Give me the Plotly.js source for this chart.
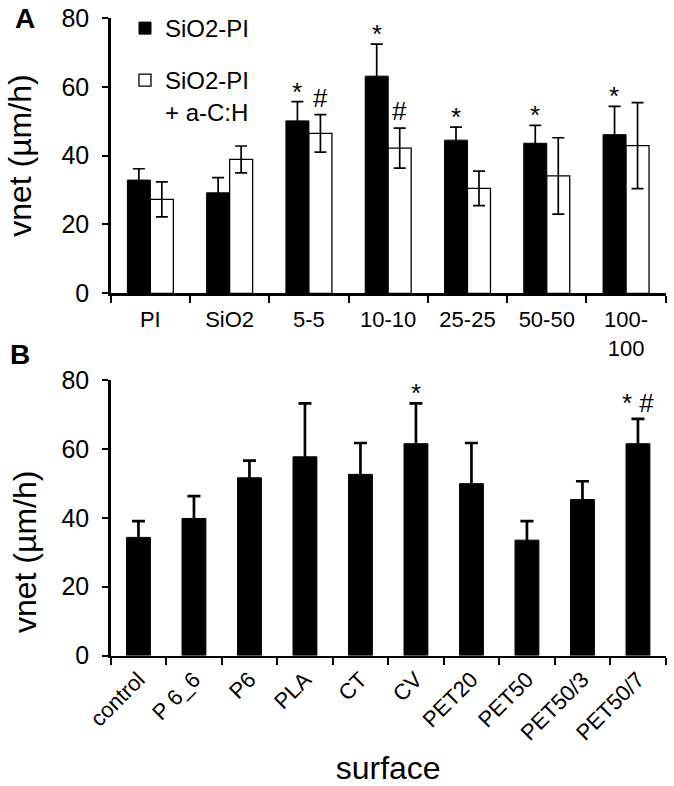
<!DOCTYPE html>
<html>
<head>
<meta charset="utf-8">
<script src="https://cdn.plot.ly/plotly-3.0.1.min.js"></script>
<style>html,body{margin:0;padding:0;background:#fff;}#chart{width:674px;height:786px;}</style>
</head>
<body>
<div id="chart"></div>
<script>
// ---- Data (panel A) ----
const catsA = ['PI', 'SiO2', '5-5', '10-10', '25-25', '50-50', '100-<br>100'];
const blackA = [32.9, 29.2, 50.1, 63.1, 44.5, 43.6, 46.1];
const blackErrA = [3.3, 4.4, 5.6, 9.3, 3.8, 5.2, 8.2];
const whiteA = [27.3, 38.9, 46.5, 42.2, 30.5, 34.1, 42.9];
const whiteErrA = [5.1, 3.9, 5.45, 5.8, 5.0, 11.1, 12.5];
const sigBlackA = ['', '', '*', '*', '*', '*', '*'];
const sigWhiteA = ['', '', '#', '#', '', '', ''];
const seriesNames = ['SiO2-PI', 'SiO2-PI<br>+ a-C:H'];

// ---- Data (panel B) ----
const catsB = ['control', 'P 6_6', 'P6', 'PLA', 'CT', 'CV', 'PET20', 'PET50', 'PET50/3', 'PET50/7'];
const valsB = [34.3, 39.8, 51.6, 57.7, 52.6, 61.5, 49.9, 33.5, 45.3, 61.5];
const errB = [4.7, 6.5, 5.0, 15.5, 9.1, 11.7, 11.8, 5.5, 5.3, 7.2];
const sigB = ['', '', '', '', '', '*', '', '', '', '* #'];

const yTicks = [0, 20, 40, 60, 80];

// ---- Styles ----
const FONT = 'Liberation Sans, Arial, Helvetica, sans-serif';
const W = 674, H = 786;
const xDom = [110.7 / W, 665.7 / W];
const yDomA = [(H - 293.3) / H, (H - 18) / H];
const yDomB = [(H - 655.5) / H, (H - 380) / H];
const groupShift = 11.6; // px offset of each bar in a pair
const sigShift = {'*': -7, '#': 0, '* #': -1};
const SIG_SIZE = 26;

const traces = [
  {
    type: 'bar', x: catsA, y: blackA, name: seriesNames[0], xaxis: 'x', yaxis: 'y',
    marker: {color: '#000', line: {color: '#000', width: 1}},
    error_y: {type: 'data', array: blackErrA, visible: true, color: '#000', thickness: 1.7, width: 6},
    legend: 'legend'
  },
  {
    type: 'bar', x: catsA, y: whiteA, name: seriesNames[1], xaxis: 'x', yaxis: 'y',
    marker: {color: '#fff', line: {color: '#000', width: 1.3}},
    error_y: {type: 'data', array: whiteErrA, visible: true, color: '#000', thickness: 1.7, width: 6},
    legend: 'legend2'
  },
  {
    type: 'bar', x: catsB, y: valsB, xaxis: 'x2', yaxis: 'y2', showlegend: false, width: 0.43,
    marker: {color: '#000', line: {color: '#000', width: 1}},
    error_y: {type: 'data', array: errB, visible: true, color: '#000', thickness: 2.7, width: 6.5}
  }
];

const annotations = [];
function addSig(cats, vals, errs, sig, xref, yref, shift) {
  sig.forEach(function (s, i) {
    if (!s) return;
    annotations.push({
      x: cats[i], y: vals[i] + errs[i], xref: xref, yref: yref, text: s,
      showarrow: false, xanchor: 'center', yanchor: 'bottom', xshift: shift,
      yshift: sigShift[s] || 0, font: {family: FONT, size: SIG_SIZE, color: '#000'}
    });
  });
}
addSig(catsA, blackA, blackErrA, sigBlackA, 'x', 'y', -groupShift);
addSig(catsA, whiteA, whiteErrA, sigWhiteA, 'x', 'y', groupShift);
addSig(catsB, valsB, errB, sigB, 'x2', 'y2', 0);

annotations.push({x: 24.7 / W, y: 1 - 18 / H, xref: 'paper', yref: 'paper', text: '<b>A</b>', showarrow: false,
  xanchor: 'center', yanchor: 'middle', font: {family: FONT, size: 28, color: '#000'}});
annotations.push({x: 20 / W, y: 1 - 355 / H, xref: 'paper', yref: 'paper', text: '<b>B</b>', showarrow: false,
  xanchor: 'center', yanchor: 'middle', font: {family: FONT, size: 28, color: '#000'}});
annotations.push({x: 25 / W, y: 1 - 552 / H, xref: 'paper', yref: 'paper', text: 'vnet (µm/h)', showarrow: false,
  textangle: -90, xanchor: 'center', yanchor: 'middle', font: {family: FONT, size: 32, color: '#000'}});

const axisCommon = {
  showline: true, linecolor: '#000', linewidth: 2.5, showgrid: false, zeroline: false,
  ticks: 'outside', tickcolor: '#000', tickwidth: 2, fixedrange: true
};

const layout = {
  width: W, height: H,
  margin: {l: 0, r: 0, t: 0, b: 0},
  paper_bgcolor: '#fff', plot_bgcolor: '#fff',
  font: {family: FONT, color: '#000'},
  barmode: 'group', bargap: 0.42, bargroupgap: 0,
  xaxis: Object.assign({}, axisCommon, {
    domain: xDom, anchor: 'y', type: 'category', range: [-0.5, 6.5], tickson: 'boundaries',
    ticklen: 7, tickfont: {family: FONT, size: 22, color: '#000'}, ticklabelstandoff: 5
  }),
  yaxis: Object.assign({}, axisCommon, {
    domain: yDomA, anchor: 'x', range: [0, 80], tickvals: yTicks, ticklen: 6,
    tickfont: {family: FONT, size: 25, color: '#000'}, ticklabelstandoff: 8,
    title: {text: 'vnet (µm/h)', font: {family: FONT, size: 32, color: '#000'}, standoff: 20}
  }),
  xaxis2: Object.assign({}, axisCommon, {
    domain: xDom, anchor: 'y2', type: 'category', range: [-0.5, 9.5], tickson: 'boundaries',
    ticklen: 7, tickangle: -45, tickfont: {family: FONT, size: 22, color: '#000'},
    title: {text: 'surface', font: {family: FONT, size: 32, color: '#000'}, standoff: 18}
  }),
  yaxis2: Object.assign({}, axisCommon, {
    domain: yDomB, anchor: 'x2', range: [0, 80], tickvals: yTicks, ticklen: 6,
    tickfont: {family: FONT, size: 25, color: '#000'}, ticklabelstandoff: 8
  }),
  legend: {x: 125 / W, xanchor: 'left', y: 1 - 6 / H, yanchor: 'top', bgcolor: 'rgba(0,0,0,0)',
    borderwidth: 0, valign: 'top', font: {family: FONT, size: 24, color: '#000'}},
  legend2: {x: 125 / W, xanchor: 'left', y: 1 - 58 / H, yanchor: 'top', bgcolor: 'rgba(0,0,0,0)',
    borderwidth: 0, valign: 'top', font: {family: FONT, size: 24, color: '#000'}},
  annotations: annotations,
  showlegend: true
};

Plotly.newPlot('chart', traces, layout, {displayModeBar: false, staticPlot: true});
</script>
</body>
</html>
